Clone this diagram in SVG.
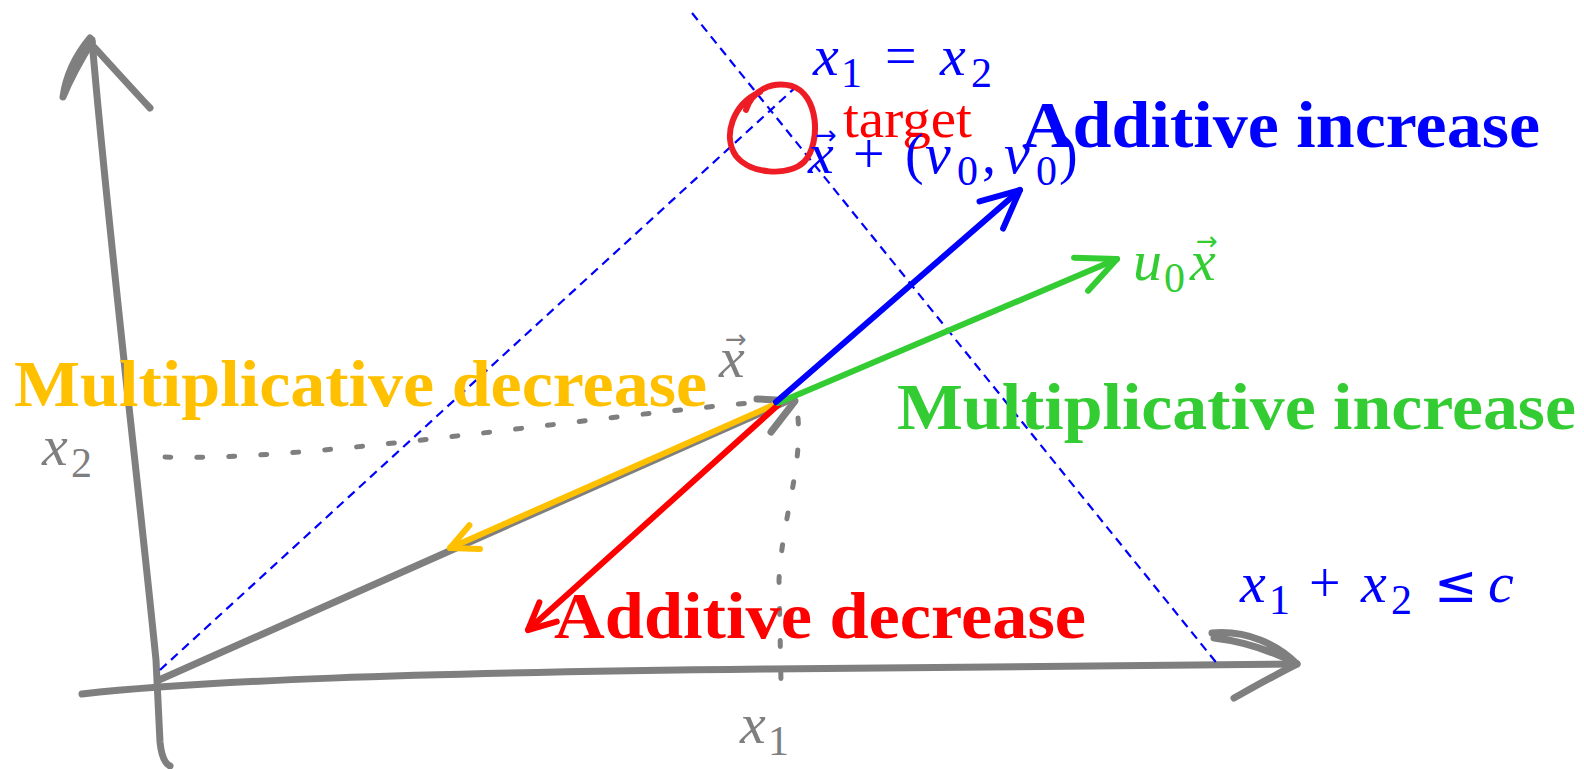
<svg xmlns="http://www.w3.org/2000/svg" width="1584" height="769" viewBox="0 0 1584 769">
<style>
.ax{fill:none;stroke:#7f7f7f;stroke-width:7;stroke-linecap:round;stroke-linejoin:round}
.dot{fill:none;stroke:#7f7f7f;stroke-width:5;stroke-linecap:round;stroke-dasharray:6 26}
.dash{fill:none;stroke:#0000ff;stroke-width:2.2;stroke-dasharray:9 6}
.vec{fill:none;stroke-width:6;stroke-linecap:round}
.big{font-family:"Liberation Serif",serif;font-weight:bold;font-size:66px}
.m{font-family:"Liberation Serif",serif;font-style:italic;font-size:58px}
.r{font-family:"Liberation Serif",serif;font-size:56px}
.s{font-family:"Liberation Serif",serif;font-size:42px}
.acc{font-family:"DejaVu Sans",sans-serif;font-size:26px}
</style>
<defs>
<marker id="hb" viewBox="-50 -30 60 60" markerWidth="60" markerHeight="60" refX="0" refY="0" orient="auto" markerUnits="userSpaceOnUse"><path d="M-38,-18 L0,0 L-38,18" fill="none" stroke="#0000ff" stroke-width="6" stroke-linecap="round" stroke-linejoin="round"/></marker>
<marker id="hg" viewBox="-50 -30 60 60" markerWidth="60" markerHeight="60" refX="0" refY="0" orient="auto" markerUnits="userSpaceOnUse"><path d="M-39,-18 L0,0 L-39,18" fill="none" stroke="#33cc33" stroke-width="6" stroke-linecap="round" stroke-linejoin="round"/></marker>
<marker id="ho" viewBox="-50 -30 60 60" markerWidth="60" markerHeight="60" refX="0" refY="0" orient="auto" markerUnits="userSpaceOnUse"><path d="M-27,-13 L0,0 L-27,13" fill="none" stroke="#ffc000" stroke-width="6" stroke-linecap="round" stroke-linejoin="round"/></marker>
<marker id="hr" viewBox="-50 -30 60 60" markerWidth="60" markerHeight="60" refX="0" refY="0" orient="auto" markerUnits="userSpaceOnUse"><path d="M-27,-13 L0,0 L-27,13" fill="none" stroke="#ff0000" stroke-width="6" stroke-linecap="round" stroke-linejoin="round"/></marker>
</defs>
<rect width="1584" height="769" fill="#ffffff"/>

<g id="axes">
<path class="ax" d="M92,40 C108,230 138,480 156,660 L160,742 Q162,762 170,766"/>
<path class="ax" d="M90,38 C76,55 66,75 63,97 C72,75 82,58 92,42 M95,48 C115,70 135,92 150,108"/>
<path class="ax" d="M82,694 C200,681 400,673 770,669 L1297,664"/>
<path class="ax" d="M1212,633 C1248,630 1278,645 1297,664 C1270,650 1240,641 1214,638 M1297,664 C1275,675 1252,688 1234,698"/>
</g>

<g id="projections">
<path class="dot" d="M165,457 C300,462 560,420 760,402"/>
<path class="dot" d="M798,418 C802,470 782,520 779,580 L781,682"/>
</g>

<g id="guides">
<line class="dash" x1="160" y1="670" x2="798" y2="85"/>
<line class="dash" x1="692" y1="13" x2="1219" y2="666"/>
</g>

<g id="target">
<path d="M746,110 C752,90 772,81 792,86 C818,94 822,142 804,162 C788,177 750,174 736,156 C722,136 733,104 760,92" fill="none" stroke="#ee1c24" stroke-width="6" stroke-linecap="round"/>
</g>

<g id="vector-x">
<line class="ax" x1="159" y1="680" x2="785" y2="402"/>
<path class="ax" d="M757,399 L795,401 L771,432"/>
</g>

<g id="connectors">
<line class="vec" stroke="#ffc000" x1="778" y1="403" x2="450" y2="548" marker-end="url(#ho)"/>
<line class="vec" stroke="#ff0000" x1="778" y1="405" x2="528" y2="630" marker-end="url(#hr)"/>
<line class="vec" stroke="#33cc33" x1="778" y1="403" x2="1117" y2="259" marker-end="url(#hg)"/>
<line class="vec" stroke="#0000ff" x1="776" y1="402" x2="1020" y2="190" marker-end="url(#hb)"/>
</g>

<g id="label-x1-eq-x2" fill="#0000ff">
<text class="m" x="813" y="75">x</text>
<text class="s" x="841" y="87">1</text>
<text class="r" x="885" y="75">=</text>
<text class="m" x="940" y="75">x</text>
<text class="s" x="971" y="87">2</text>
</g>

<g id="label-target">
<text x="843" y="137" fill="#ff0000" font-family="Liberation Serif, serif" font-size="54" textLength="129" lengthAdjust="spacingAndGlyphs">target</text>
</g>

<g id="label-x-plus-v" fill="#0000ff">
<text class="m" x="808" y="173">x</text>
<text class="acc" x="815" y="144">→</text>
<text class="r" x="853" y="173">+</text>
<text class="r" x="905" y="173">(</text>
<text class="m" x="925" y="173">v</text>
<text class="s" x="957" y="185">0</text>
<text class="r" x="982" y="173">,</text>
<text class="m" x="1004" y="173">v</text>
<text class="s" x="1036" y="185">0</text>
<text class="r" x="1059" y="173">)</text>
</g>

<g id="label-u0x" fill="#33cc33">
<text class="m" x="1133" y="280">u</text>
<text class="s" x="1164" y="292">0</text>
<text class="m" x="1190" y="280">x</text>
<text class="acc" x="1196" y="250">→</text>
</g>

<g id="label-x" fill="#7f7f7f">
<text class="m" x="719" y="377">x</text>
<text class="acc" x="725" y="348">→</text>
</g>

<g id="label-x2-axis" fill="#7f7f7f">
<text class="m" x="42" y="465">x</text>
<text class="s" x="71" y="477">2</text>
</g>

<g id="label-x1-axis" fill="#7f7f7f">
<text class="m" x="740" y="743">x</text>
<text class="s" x="768" y="755">1</text>
</g>

<g id="label-constraint" fill="#0000ff">
<text class="m" x="1240" y="602">x</text>
<text class="s" x="1269" y="614">1</text>
<text class="r" x="1309" y="602">+</text>
<text class="m" x="1361" y="602">x</text>
<text class="s" x="1391" y="614">2</text>
<text x="1434" y="602" font-family="DejaVu Sans, sans-serif" font-size="52">≤</text>
<text class="m" x="1488" y="602">c</text>
</g>

<g id="labels-big">
<text class="big" x="1022" y="147" fill="#0000ff" textLength="518" lengthAdjust="spacingAndGlyphs">Additive increase</text>
<text class="big" x="897" y="429" fill="#33cc33" textLength="679" lengthAdjust="spacingAndGlyphs">Multiplicative increase</text>
<text class="big" x="14" y="406" fill="#ffc000" textLength="693" lengthAdjust="spacingAndGlyphs">Multiplicative decrease</text>
<text class="big" x="554" y="638" fill="#ff0000" textLength="532" lengthAdjust="spacingAndGlyphs">Additive decrease</text>
</g>
</svg>
